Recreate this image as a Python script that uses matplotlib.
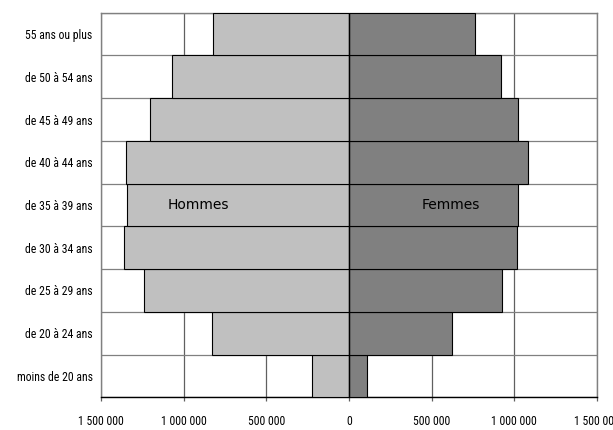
import matplotlib
matplotlib.use("Agg")
import matplotlib.pyplot as plt
from matplotlib import font_manager
import numpy as np
from matplotlib.ticker import FuncFormatter, MultipleLocator

# age groups, bottom to top
ages = [
    "moins de 20 ans",
    "de 20 à 24 ans",
    "de 25 à 29 ans",
    "de 30 à 34 ans",
    "de 35 à 39 ans",
    "de 40 à 44 ans",
    "de 45 à 49 ans",
    "de 50 à 54 ans",
    "55 ans ou plus",
]
hommes = [222000, 827000, 1240000, 1359000, 1343000, 1349000, 1202000, 1069000, 821000]
femmes = [108000, 625000, 925000, 1017000, 1021000, 1084000, 1023000, 918000, 763000]

# look for a narrow font for the tick labels, else shrink DejaVu Sans
tick_fp = None
wanted = ["Liberation Sans Narrow", "Roboto Condensed", "Open Sans Condensed",
          "Noto Sans Condensed", "DejaVu Sans Condensed"]
for name in wanted:
    for f in font_manager.fontManager.ttflist:
        if f.name == name and f.style == "normal" and f.weight in (400, "normal", "regular"):
            tick_fp = font_manager.FontProperties(fname=f.fname, size=8.5)
            break
    if tick_fp is not None:
        break
if tick_fp is None:
    for f in font_manager.fontManager.ttflist:
        if (f.stretch in ("condensed", "semi-condensed") and f.style == "normal"
                and f.weight in (400, "normal", "regular") and "Sans" in f.name):
            tick_fp = font_manager.FontProperties(fname=f.fname, size=8)
            break
if tick_fp is None:
    tick_fp = font_manager.FontProperties(family="DejaVu Sans", size=6.5)

fig = plt.figure(figsize=(6.13, 4.30), dpi=100)
ax = fig.add_axes([0.1648, 0.076, 0.8091, 0.8945])

y = np.arange(len(ages))
ax.barh(y, -np.array(hommes), height=1.0, color="#c0c0c0",
        edgecolor="black", linewidth=0.8, zorder=3)
ax.barh(y, femmes, height=1.0, color="#808080",
        edgecolor="black", linewidth=0.8, zorder=3)
ax.axvline(0, color="black", linewidth=1.0, zorder=4)

ax.set_xlim(-1500000, 1500000)
ax.set_ylim(-0.5, len(ages) - 0.5)

ax.xaxis.set_major_locator(MultipleLocator(500000))
ax.xaxis.set_major_formatter(
    FuncFormatter(lambda v, p: f"{abs(v):,.0f}".replace(",", " "))
)
ax.set_yticks(y)
ax.set_yticklabels(ages)
ax.set_yticks(np.arange(len(ages) + 1) - 0.5, minor=True)

ax.grid(axis="x", which="major", color="#606060", linewidth=0.9, zorder=1)
ax.grid(axis="y", which="minor", color="#808080", linewidth=0.9, zorder=1)
ax.set_axisbelow(True)

for lab in ax.get_xticklabels() + ax.get_yticklabels():
    lab.set_fontproperties(tick_fp)

ax.tick_params(axis="y", which="both", length=0, pad=6)
ax.tick_params(axis="x", length=3, width=0.9, color="#606060", pad=10)

for side in ["left", "right", "top"]:
    ax.spines[side].set_color("#808080")
    ax.spines[side].set_linewidth(1.0)
ax.spines["bottom"].set_color("black")
ax.spines["bottom"].set_linewidth(1.0)

ax.text(-910000, 4, "Hommes", ha="center", va="center", fontsize=10, zorder=5)
ax.text(614000, 4, "Femmes", ha="center", va="center", fontsize=10, zorder=5)

fig.savefig("out.png", dpi=100)
